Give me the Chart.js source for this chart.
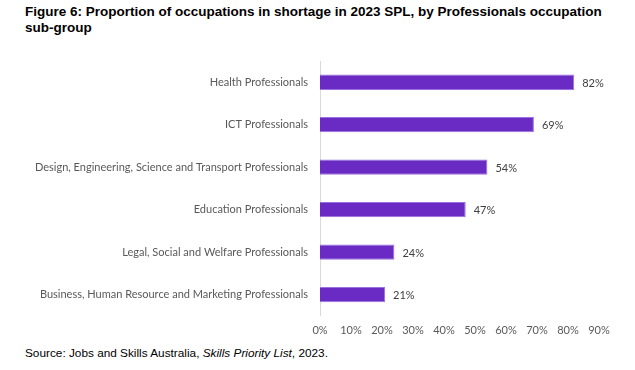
<!DOCTYPE html>
<html>
<head>
<meta charset="utf-8">
<script src="https://cdn.jsdelivr.net/npm/chart.js@4"></script>
<style>
  body { margin: 0; background: #fff; width: 635px; height: 370px; position: relative; overflow: hidden; }
  #title { position: absolute; left: 25px; top: 4px; width: 600px; font: bold 13.5px "Liberation Sans", Arial, sans-serif; line-height: 16px; color: #000; }
  #source { position: absolute; left: 25px; top: 346px; font: 11.8px "Liberation Sans", Arial, sans-serif; color: #000; }
  #wrap { position: absolute; left: 0; top: 40px; width: 635px; height: 305px; }
</style>
</head>
<body>
<div id="title">Figure 6: Proportion of occupations in shortage in 2023 SPL, by Professionals occupation sub-group</div>
<div id="wrap"><canvas id="chart"></canvas></div>
<div id="source">Source: Jobs and Skills Australia, <i>Skills Priority List</i>, 2023.</div>
<script>
"use strict";

const categories = [
  "Health Professionals",
  "ICT Professionals",
  "Design, Engineering, Science and Transport Professionals",
  "Education Professionals",
  "Legal, Social and Welfare Professionals",
  "Business, Human Resource and Marketing Professionals"
];
const shares = [82, 69, 54, 47, 24, 21];
const xTicks = [0, 10, 20, 30, 40, 50, 60, 70, 80, 90];

const labelFont = { family: "Lato, 'Open Sans', sans-serif", size: 11 };

// draws the % value at the end of each bar
const valueLabels = {
  id: "valueLabels",
  afterDatasetsDraw(chart) {
    const ctx = chart.ctx;
    ctx.save();
    ctx.font = "11px Lato, 'Open Sans', sans-serif";
    ctx.fillStyle = "#404040";
    ctx.textBaseline = "middle";
    chart.getDatasetMeta(0).data.forEach((bar, i) => {
      ctx.fillText(shares[i] + "%", bar.x + 8, bar.y + 1);
    });
    ctx.restore();
  }
};

new Chart(document.getElementById("chart"), {
  type: "bar",
  data: {
    labels: categories,
    datasets: [{
      data: shares,
      backgroundColor: "#6a2bc4",
      borderColor: "#9b6fdc",
      borderWidth: 1,
      categoryPercentage: 1,
      barPercentage: 0.36
    }]
  },
  options: {
    indexAxis: "y",
    responsive: true,
    maintainAspectRatio: false,
    animation: false,
    layout: { padding: { top: 21, right: 36, bottom: 0, left: 0 } },
    plugins: {
      legend: { display: false },
      tooltip: { enabled: false }
    },
    scales: {
      x: {
        min: 0,
        max: 90,
        afterBuildTicks(axis) {
          axis.ticks = xTicks.map((v) => ({ value: v }));
        },
        grid: { display: false, drawTicks: false },
        border: { display: false },
        ticks: {
          padding: 8,
          color: "#595959",
          font: labelFont,
          callback: (v) => v + "%"
        }
      },
      y: {
        afterFit(axis) { axis.width = 320; },
        grid: { display: false, drawTicks: false },
        border: { display: true, color: "#d9d9d9", width: 1 },
        ticks: {
          padding: 12,
          color: "#595959",
          font: labelFont
        }
      }
    }
  },
  plugins: [valueLabels]
});
</script>
</body>
</html>
